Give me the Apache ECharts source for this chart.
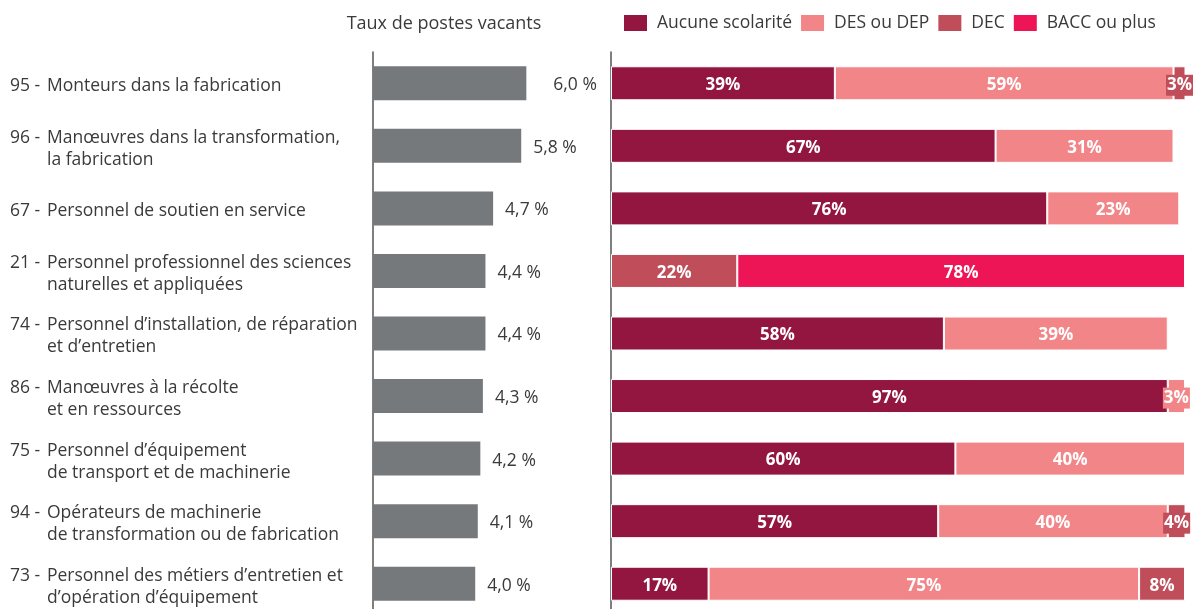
<!DOCTYPE html>
<html><head><meta charset="utf-8">
<script src="https://cdn.jsdelivr.net/npm/echarts@6/dist/echarts.min.js"></script>
<style>html,body{margin:0;padding:0;background:#fff}#c{width:1193px;height:609px}</style>
</head><body><div id="c"></div>
<script>
const codes = ['95','96','67','21','74','86','75','94','73'];
const nameLine1 = ['Monteurs dans la fabrication','Manœuvres dans la transformation,','Personnel de soutien en service','Personnel professionnel des sciences','Personnel d\u2019installation, de réparation','Manœuvres à la récolte','Personnel d\u2019équipement','Opérateurs de machinerie','Personnel des métiers d\u2019entretien et'];
const nameLine2 = ['','la fabrication','','naturelles et appliquées','et d\u2019entretien','et en ressources','de transport et de machinerie','de transformation ou de fabrication','d\u2019opération d\u2019équipement'];
const vacancy = [6.0,5.8,4.7,4.4,4.4,4.3,4.2,4.1,4.0];
const aucune = [39,67,76,null,58,97,60,57,17];
const desDep = [59,31,23,null,39,3,40,40,75];
const dec = [3,null,null,22,null,null,null,4,8];
const bacc = [null,null,null,78,null,null,null,null,null];
const seriesNames = ['Aucune scolarité','DES ou DEP','DEC','BACC ou plus'];
const colors = ['#92163f','#f28587','#bf4e5a','#ee1556'];

const FONT = 'Open Sans';
const TXT = '#3a3a3a';
const cats = codes.map((c,i)=>i);
const chart = echarts.init(document.getElementById('c'));
const labelFmt = i => {
  const l1 = '{n|' + codes[i] + ' -}{t|' + nameLine1[i] + '}';
  return nameLine2[i] ? l1 + '\n{n|}{t|' + nameLine2[i] + '}' : l1;
};
const stackSeries = [aucune, desDep, dec, bacc].map((arr,k)=>({
  name: seriesNames[k], type:'bar', stack:'s', xAxisIndex:1, yAxisIndex:1,
  barWidth:34, data: arr,
  itemStyle:{color:colors[k], borderColor:'#fff', borderWidth:1},
  label:{show:true, position:'inside', offset:[0,2], color:'#fff', fontFamily:FONT, fontWeight:'bold', fontSize:17,
    backgroundColor:colors[k], padding:[2,1], formatter: p => p.value + '%'}
}));
chart.setOption({
  animation:false,
  textStyle:{fontFamily:FONT},
  title:{text:'Taux de postes vacants', left:444, textAlign:'center', top:15, padding:0,
    textStyle:{fontFamily:FONT, fontSize:18, fontWeight:'normal', color:TXT}},
  legend:{left:622, top:13, padding:0, itemWidth:25, itemHeight:18, itemGap:7, icon:'rect',
    textStyle:{fontFamily:FONT, fontSize:17.5, color:TXT, padding:[2,0,0,4]},
    data: seriesNames},
  grid:[
    {left:373, top:52, width:230, height:563, outerBoundsMode:'none'},
    {left:611, top:52, width:574, height:563, outerBoundsMode:'none'}
  ],
  xAxis:[
    {gridIndex:0, type:'value', min:0, max:9, show:false},
    {gridIndex:1, type:'value', min:0, max:100, show:false}
  ],
  yAxis:[
    {gridIndex:0, type:'category', data:cats, inverse:true,
      axisLine:{lineStyle:{color:'#555', width:1.5}}, axisTick:{show:false},
      axisLabel:{align:'left', margin:363, padding:[6,0,0,0], formatter:(v)=>labelFmt(+v),
        rich:{n:{width:37, fontSize:17.5, color:TXT, fontFamily:FONT, lineHeight:22},
              t:{fontSize:17.5, color:TXT, fontFamily:FONT, lineHeight:22}}}},
    {gridIndex:1, type:'category', data:cats, inverse:true,
      axisLine:{lineStyle:{color:'#555', width:1.5}}, axisTick:{show:false}, axisLabel:{show:false}}
  ],
  series:[
    {type:'bar', xAxisIndex:0, yAxisIndex:0, barWidth:34,
      data: vacancy.map((v,i)=> i===0 ? {value:v, label:{distance:27}} : v),
      itemStyle:{color:'#76797c'},
      label:{show:true, position:'right', distance:12, offset:[0,2], color:TXT, fontFamily:FONT, fontSize:17.5,
        formatter:p=>p.value.toFixed(1).replace('.',',') + ' %'}},
    ...stackSeries
  ]
});
</script></body></html>
